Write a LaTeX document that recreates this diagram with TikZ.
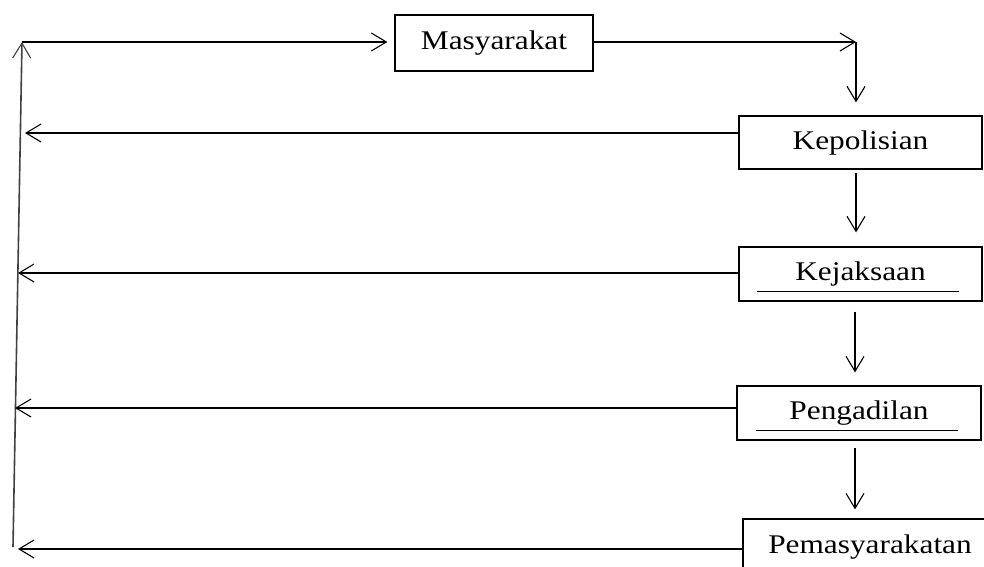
\documentclass[tikz,border=0pt]{standalone}
\usepackage{fontspec}
\setmainfont{Liberation Serif}
\usetikzlibrary{arrows.meta,calc}
\tikzset{
  box/.style={draw, line width=1.2pt, inner sep=0pt, font=\fontsize{27}{30}\selectfont},
  arr/.style={draw, line width=1.1pt, -{Straight Barb[length=15pt,width=18pt,line width=1.1pt]}},
  ln/.style={draw, line width=1.1pt},
  vl/.style={draw, line width=1.6pt, black!75}
}
\newcommand{\wtxt}[1]{\scalebox{1.16}[1]{#1}}
\begin{document}
\begin{tikzpicture}[x=1pt,y=-1pt]
\useasboundingbox (0,0) rectangle (984,566);
\node[box, minimum width=198pt, minimum height=56pt] (masy) at (494,43) {\wtxt{Masyarakat}};
\node[box, minimum width=243pt, minimum height=53pt] (kep) at (860.5,142.5) {\wtxt{Kepolisian}};
\node[box, minimum width=243pt, minimum height=54pt] (kej) at (860.5,274) {\raisebox{3pt}{\wtxt{Kejaksaan}}};
\node[box, minimum width=244pt, minimum height=54pt] (pen) at (859,413) {\raisebox{3pt}{\wtxt{Pengadilan}}};
\node[box, minimum width=248pt, minimum height=62pt, text depth=0pt] (pem) at (867,550) {};
\node[font=\fontsize{27}{30}\selectfont, inner sep=0pt] (pemt) at (870,547) {\wtxt{Pemasyarakatan}};
% underlines
\draw[ln] ([xshift=19pt,yshift=10pt]kej.south west) -- ([xshift=-24pt,yshift=10pt]kej.south east);
\draw[ln] ([xshift=20pt,yshift=10pt]pen.south west) -- ([xshift=-24pt,yshift=10pt]pen.south east);
% coordinates
\coordinate (tl) at (22,42);
\coordinate (bl) at (13,547);
\coordinate (tr) at (856,42);
% left vertical line
\draw[vl, -{Straight Barb[length=15pt,width=18pt,line width=1.1pt]}] (bl) -- (tl);
% top connectors
\draw[arr, shorten >=7pt] (tl) -- (tl -| masy.west);
\draw[arr] (masy.east |- tl) -- (tr);
\draw[arr, shorten >=13pt] (tr) -- (tr |- kep.north);
% down connectors
\draw[arr, shorten <=4pt, shorten >=14pt] (856,169) coordinate (k1) (k1) -- (k1 |- kej.north);
\draw[arr, shorten <=10pt, shorten >=13pt] (kej.south -| 855,0) -- (pen.north -| 855,0);
\draw[arr, shorten <=7pt, shorten >=9pt] (pen.south -| 855,0) -- (pem.north -| 855,0);
% back connectors
\draw[arr] (kep.west |- 0,133) -- (25,133);
\draw[arr] (kej.west |- 0,273) -- (18,273);
\draw[arr] (pen.west |- 0,408) -- (15,408);
\draw[arr] (pem.west |- 0,549) -- (18,549);
\end{tikzpicture}
\end{document}
